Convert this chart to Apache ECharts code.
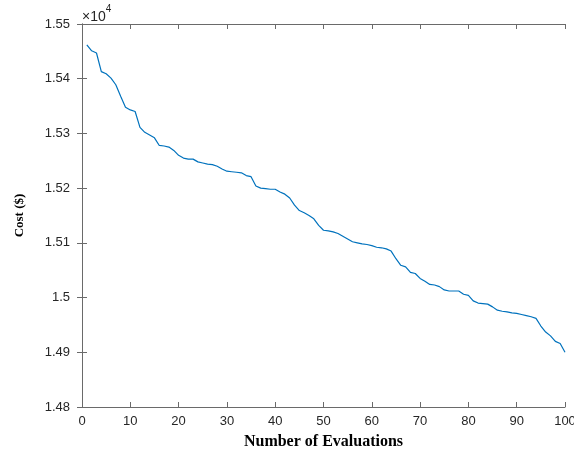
<!DOCTYPE html>
<html><head><meta charset="utf-8">
<script src="https://cdn.jsdelivr.net/npm/echarts@6/dist/echarts.min.js"></script>
<style>html,body{margin:0;padding:0;background:#fff}#c{width:574px;height:456px}</style>
</head><body><div id="c"></div>
<script>
var evaluations = [];
for (var k = 1; k <= 100; k++) evaluations.push(k);
var cost = [15462,15451,15447,15413,15409,15401,15389,15368,15348,15343,
15340,15311,15302,15297,15292,15278,15277,15275,15269,15260,
15255,15253,15253,15248,15246,15244,15243,15240,15235,15231,
15230,15229,15228,15223,15221,15204,15200,15199,15198,15198,
15193,15189,15182,15169,15159,15155,15150,15144,15132,15123,
15122,15120,15117,15112,15107,15102,15100,15098,15097,15095,
15092,15091,15089,15085,15071,15059,15056,15046,15044,15035,
15030,15024,15023,15020,15014,15012,15012,15012,15006,15004,
14994,14990,14989,14988,14983,14977,14975,14974,14972,14971,
14969,14967,14965,14962,14948,14937,14930,14920,14916,14900];
var xTicks = [0,10,20,30,40,50,60,70,80,90,100];
var yTicks = [14800,14900,15000,15100,15200,15300,15400,15500];

var chart = echarts.init(document.getElementById('c'));
var axisCol = '#6a6a6a';
var lblCol = '#262626';
var fnt = '"Liberation Sans", Arial, sans-serif';
function yFmt(v){ return String(parseFloat((v/10000).toFixed(2))); }
var pairs = evaluations.map(function(e,i){ return [e, cost[i]]; });
chart.setOption({
  animation: false,
  grid: {left: 82, right: 9, top: 24, bottom: 49, containLabel: false, outerBoundsMode: 'none'},
  xAxis: [{
    type: 'value', min: xTicks[0], max: xTicks[xTicks.length-1], interval: 10,
    position: 'bottom',
    axisLine: {show: true, lineStyle: {color: axisCol, width: 1}},
    axisTick: {show: true, inside: true, length: 5, lineStyle: {color: axisCol}},
    axisLabel: {color: lblCol, fontFamily: fnt, fontSize: 13, margin: 8},
    splitLine: {show: false},
    name: 'Number of Evaluations', nameLocation: 'middle', nameGap: 27,
    nameTextStyle: {fontFamily: '"Liberation Serif", "Times New Roman", serif', fontWeight: 'bold', fontSize: 16, color: '#000'}
  },{
    type: 'value', min: 0, max: 100, interval: 10, position: 'top',
    axisLine: {show: true, lineStyle: {color: axisCol, width: 1}},
    axisTick: {show: true, inside: true, length: 5, lineStyle: {color: axisCol}},
    axisLabel: {show: false}, splitLine: {show: false}
  }],
  yAxis: [{
    type: 'value', min: yTicks[0], max: yTicks[yTicks.length-1], interval: 100,
    position: 'left',
    axisLine: {show: true, lineStyle: {color: axisCol, width: 1}},
    axisTick: {show: true, inside: true, length: 5, lineStyle: {color: axisCol}},
    axisLabel: {color: lblCol, fontFamily: fnt, fontSize: 13, margin: 12, formatter: yFmt},
    splitLine: {show: false},
    name: 'Cost ($)', nameLocation: 'middle', nameGap: 56, nameRotate: 90,
    nameTextStyle: {fontFamily: '"Liberation Serif", "Times New Roman", serif', fontWeight: 'bold', fontSize: 13, color: '#000'}
  },{
    type: 'value', min: 14800, max: 15500, interval: 100, position: 'right',
    axisLine: {show: true, lineStyle: {color: axisCol, width: 1}},
    axisTick: {show: true, inside: true, length: 5, lineStyle: {color: axisCol}},
    axisLabel: {show: false}, splitLine: {show: false}
  }],
  graphic: [{
    type: 'text', left: 82, top: 4,
    style: {
      text: '{a|×10}{b|4}',
      rich: {
        a: {fontFamily: fnt, fontSize: 14, fill: lblCol, padding: [6,0,0,0]},
        b: {fontFamily: fnt, fontSize: 10, fill: lblCol, verticalAlign: 'top', padding: [0,0,6,0]}
      }
    }
  }],
  series: [{
    type: 'line', xAxisIndex: 0, yAxisIndex: 0, data: pairs,
    showSymbol: false, symbol: 'none',
    lineStyle: {color: '#0072BD', width: 1.2}
  }]
});
</script></body></html>
